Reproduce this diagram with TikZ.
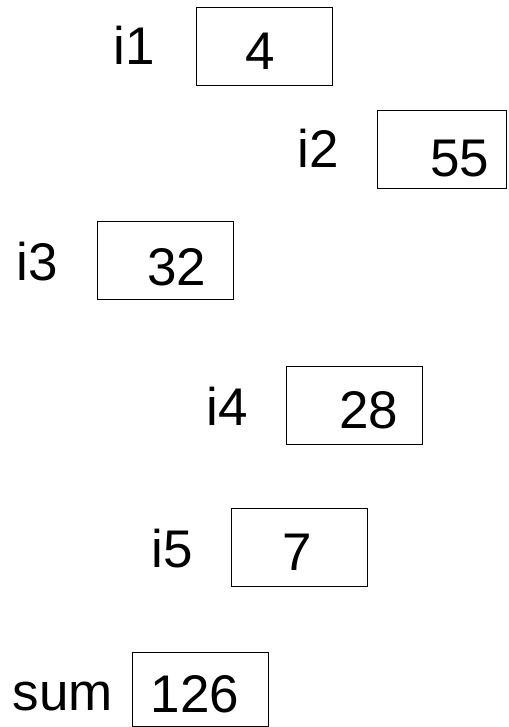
\documentclass[tikz,border=0pt]{standalone}
\usepackage{fontspec}
\setmainfont{Liberation Sans}
\usetikzlibrary{positioning}

\begin{document}
\begin{tikzpicture}[x=1pt, y=-1pt, every node/.style={font=\fontsize{53}{60}\selectfont, inner sep=0pt}, cell/.style={draw, line width=1pt, minimum width=136pt, minimum height=78pt}, txt/.style={anchor=base}]
\useasboundingbox (0,0) rectangle (508,727);
\node[cell] (i1box) at (264,46.5) {};
\node[cell, minimum width=129pt] (i2box) at (441.5,150) {};
\node[cell] (i3box) at (165,260.5) {};
\node[cell] (i4box) at (354.5,405) {};
\node[cell] (i5box) at (299,547) {};
\node[cell, minimum height=74pt] (sumbox) at (200,689) {};
\node[txt] (i1name) at (134,65) {i1}; \node[txt] (i1val) at (260,70) {4};
\node[txt] (i2name) at (318,168) {i2}; \node[txt] (i2val) at (460,177) {55};
\node[txt] (i3name) at (37,280) {i3}; \node[txt] (i3val) at (177,285) {32};
\node[txt] (i4name) at (227,425) {i4}; \node[txt] (i4val) at (369,428) {28};
\node[txt] (i5name) at (172,567) {i5}; \node[txt] (i5val) at (297,570) {7};
\node[txt] (sumname) at (63,710) {sum}; \node[txt] (sumval) at (195,712) {126};
\end{tikzpicture}
\end{document}
